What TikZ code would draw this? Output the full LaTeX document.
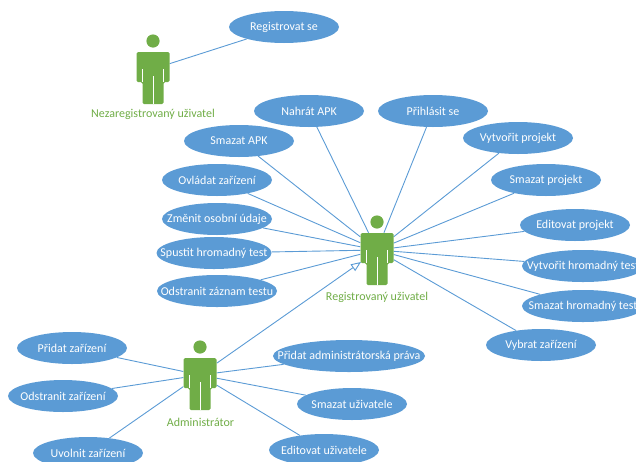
\documentclass[tikz,border=0pt]{standalone}
\usepackage{fontspec}
\setmainfont{Carlito}
\definecolor{ublue}{HTML}{5B9BD5}
\definecolor{agreen}{HTML}{70AD47}
\usetikzlibrary{arrows.meta,shapes.geometric}
\tikzset{
 x=1pt,y=-1pt,
 usecase/.style={ellipse,fill=ublue,text=white,inner sep=0pt,minimum width=110pt,minimum height=32pt,font=\fontsize{12}{14}\selectfont},
 actorlabel/.style={text=agreen,inner sep=0pt,font=\fontsize{12}{14}\selectfont},
 torso/.style={rectangle,inner sep=0pt,minimum width=33pt,minimum height=34pt},
 link/.style={draw=ublue,line width=0.9pt},
 inherit/.style={link,-{Triangle[open,fill=white,length=10pt,width=8pt]}},
}
\newcommand{\uc}[1]{\raisebox{-0.8pt}{\makebox[0pt]{#1}}}
\newcommand{\personicon}[2]{%
 \begin{scope}[shift={(#1,#2)}]
  \fill[agreen] (0,-27) circle (6.6);
  \fill[agreen,rounded corners=1.5pt] (-16.5,-16) -- (16.5,-16) -- (16.5,14) -- (10.5,14) -- (10.5,36) -- (-10.5,36) -- (-10.5,14) -- (-16.5,14) -- cycle;
  \draw[white,line width=0.7pt] (-10.5,1) -- (-10.5,14) (10.5,1) -- (10.5,14) (0,8) -- (0,36);
 \end{scope}}
\begin{document}
\begin{tikzpicture}
\useasboundingbox (0,0) rectangle (636,461);
\clip (0,0) rectangle (636,461);
\node[usecase] (reg) at (284,27) {\uc{Registrovat se}};
\node[usecase] (nahrat) at (309,111) {\uc{Nahrát APK}};
\node[usecase] (prihl) at (433,111) {\uc{Přihlásit se}};
\node[usecase] (smapk) at (239,141) {\uc{Smazat APK}};
\node[usecase] (vproj) at (518,138) {\uc{Vytvořit projekt}};
\node[usecase] (ovl) at (217,180) {\uc{Ovládat zařízení}};
\node[usecase] (sproj) at (546,180) {\uc{Smazat projekt}};
\node[usecase] (zmen) at (217,219) {\uc{Změnit osobní údaje}};
\node[usecase] (eproj) at (575,225) {\uc{Editovat projekt}};
\node[usecase,minimum width=115pt] (spust) at (214,253) {\uc{Spustit hromadný test}};
\node[usecase,minimum width=122pt] (vhrom) at (583,266) {\uc{Vytvořit hromadný test}};
\node[usecase,minimum width=120pt] (odzaz) at (217,291) {\uc{Odstranit záznam testu}};
\node[usecase,minimum width=122pt] (shrom) at (583,306) {\uc{Smazat hromadný test}};
\node[usecase] (vybr) at (541,345) {\uc{Vybrat zařízení}};
\node[usecase,minimum width=152pt] (padm) at (349,356) {\uc{Přidat administrátorská práva}};
\node[usecase] (pzar) at (72,348) {\uc{Přidat zařízení}};
\node[usecase] (ozar) at (63,396) {\uc{Odstranit zařízení}};
\node[usecase] (uzar) at (88,453) {\uc{Uvolnit zařízení}};
\node[usecase] (suz) at (352,404) {\uc{Smazat uživatele}};
\node[usecase] (euz) at (324,450) {\uc{Editovat uživatele}};
\node[torso] (nez) at (153,69) {};
\node[torso] (regu) at (377,250) {};
\node[torso] (adm) at (200,375) {};
\coordinate (admout) at (217,363);
\coordinate (regin) at (361,262);
\foreach \a in {nahrat,prihl,smapk,vproj,ovl,sproj,zmen,eproj,spust,vhrom,odzaz,shrom,vybr}
  \draw[link] (\a) -- (regu);
\foreach \a in {padm,pzar,ozar,uzar,suz,euz}
  \draw[link] (\a) -- (adm);
\draw[link] (reg) -- (nez);
\draw[inherit] (admout) -- (regin);
\personicon{153}{68}
\personicon{377}{249}
\personicon{200}{374}
\node[actorlabel] (lnez) at (153,114) {Nezaregistrovaný uživatel};
\node[actorlabel] (lreg) at (377,297) {Registrovaný uživatel};
\node[actorlabel] (ladm) at (200.5,422) {Administrátor};
\end{tikzpicture}
\end{document}
